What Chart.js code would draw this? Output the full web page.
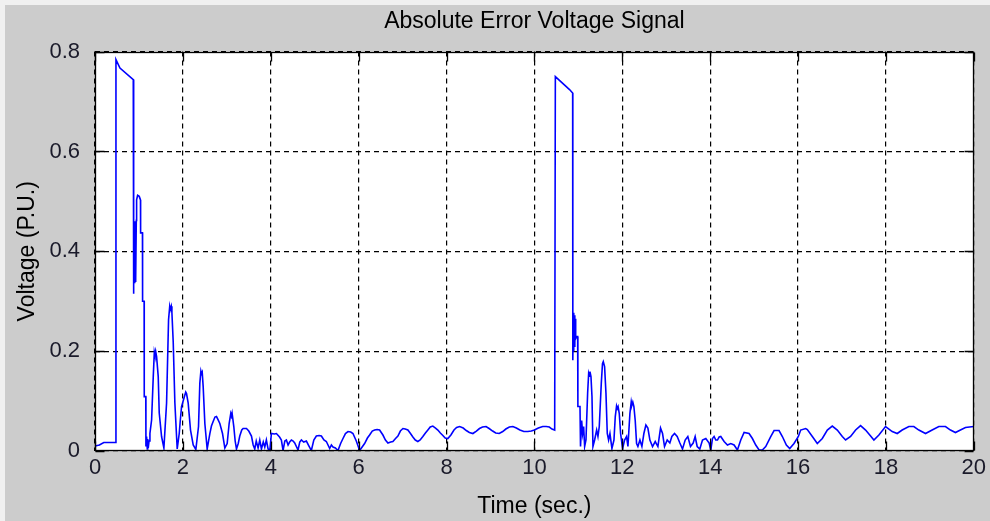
<!DOCTYPE html>
<html>
<head>
<meta charset="utf-8">
<script src="https://cdn.jsdelivr.net/npm/chart.js@4.4.1/dist/chart.umd.min.js"></script>
<style>
  html, body { margin: 0; padding: 0; background: #cccccc; }
  canvas { display: block; }
</style>
</head>
<body>
<canvas id="errchart" width="990" height="521"></canvas>
<script>
// time (sec) and absolute error (P.U.)
const times = [
  0, 0.10, 0.20, 0.47, 0.477, 0.568, 0.871, 0.873, 0.880, 0.887, 0.894, 0.901, 0.908, 0.915, 0.922, 0.930,
  0.940, 0.947, 0.970, 1.007, 1.035, 1.038, 1.080, 1.083, 1.118, 1.121, 1.156, 1.159, 1.174, 1.190, 1.200, 1.212,
  1.230, 1.250, 1.288, 1.326, 1.350, 1.364, 1.380, 1.402, 1.439, 1.462, 1.515, 1.568, 1.629, 1.674, 1.700, 1.712,
  1.735, 1.750, 1.780, 1.818, 1.850, 1.871, 1.917, 1.940, 1.970, 2.000, 2.045, 2.065, 2.083, 2.121, 2.174, 2.235,
  2.295, 2.356, 2.386, 2.410, 2.424, 2.440, 2.462, 2.500, 2.553, 2.614, 2.650, 2.689, 2.730, 2.765, 2.800, 2.841,
  2.902, 2.955, 3.008, 3.053, 3.090, 3.106, 3.120, 3.159, 3.190, 3.220, 3.260, 3.295, 3.340, 3.371, 3.447, 3.500,
  3.561, 3.600, 3.636, 3.670, 3.712, 3.750, 3.788, 3.830, 3.864, 3.900, 3.939, 3.980, 4.015, 4.080, 4.129, 4.200,
  4.242, 4.280, 4.320, 4.356, 4.394, 4.430, 4.470, 4.510, 4.545, 4.621, 4.660, 4.697, 4.750, 4.811, 4.870, 4.924,
  4.980, 5.038, 5.100, 5.152, 5.210, 5.265, 5.341, 5.380, 5.417, 5.470, 5.530, 5.590, 5.644, 5.700, 5.758, 5.820,
  5.871, 5.947, 6.023, 6.080, 6.136, 6.200, 6.250, 6.310, 6.364, 6.420, 6.477, 6.553, 6.610, 6.667, 6.730, 6.780,
  6.840, 6.894, 6.950, 7.008, 7.060, 7.121, 7.180, 7.235, 7.290, 7.348, 7.400, 7.462, 7.520, 7.576, 7.630, 7.689,
  7.750, 7.803, 7.860, 7.917, 7.970, 8.030, 8.100, 8.170, 8.230, 8.300, 8.380, 8.450, 8.520, 8.600, 8.680, 8.750,
  8.820, 8.900, 8.970, 9.050, 9.120, 9.200, 9.280, 9.350, 9.430, 9.510, 9.590, 9.670, 9.760, 9.850, 9.930, 10.000,
  10.090, 10.190, 10.270, 10.340, 10.400, 10.462, 10.477, 10.800, 10.871, 10.875, 10.885, 10.892, 10.900, 10.908, 10.916, 10.924,
  10.932, 10.940, 10.962, 10.985, 10.990, 11.038, 11.050, 11.076, 11.098, 11.121, 11.144, 11.174, 11.212, 11.235, 11.250, 11.265,
  11.288, 11.311, 11.333, 11.371, 11.417, 11.447, 11.477, 11.523, 11.550, 11.568, 11.598, 11.629, 11.659, 11.689, 11.720, 11.765,
  11.811, 11.841, 11.870, 11.886, 11.905, 11.932, 11.962, 12.008, 12.053, 12.098, 12.129, 12.174, 12.205, 12.220, 12.240, 12.265,
  12.295, 12.326, 12.356, 12.402, 12.447, 12.492, 12.538, 12.583, 12.629, 12.689, 12.750, 12.811, 12.871, 12.917, 12.962, 13.023,
  13.083, 13.129, 13.190, 13.250, 13.311, 13.371, 13.432, 13.492, 13.553, 13.614, 13.659, 13.705, 13.765, 13.826, 13.902, 13.977,
  14.015, 14.053, 14.090, 14.129, 14.167, 14.205, 14.242, 14.318, 14.394, 14.470, 14.545, 14.621, 14.697, 14.773, 14.886, 14.962,
  15.038, 15.114, 15.189, 15.265, 15.379, 15.455, 15.568, 15.644, 15.735, 15.811, 15.909, 16.008, 16.061, 16.174, 16.212, 16.326,
  16.439, 16.553, 16.667, 16.780, 16.894, 17.008, 17.083, 17.197, 17.311, 17.424, 17.538, 17.652, 17.727, 17.841, 17.992, 18.144,
  18.258, 18.371, 18.523, 18.636, 18.750, 18.902, 19.053, 19.205, 19.356, 19.470, 19.583, 19.697, 19.811, 20.000
];
const volts = [
  0.010, 0.012, 0.017, 0.017, 0.784, 0.767, 0.744, 0.315, 0.460, 0.330, 0.455, 0.336, 0.460, 0.340, 0.450, 0.345,
  0.462, 0.503, 0.512, 0.510, 0.503, 0.437, 0.437, 0.300, 0.300, 0.109, 0.109, 0.009, 0.029, 0.004, 0.024, 0.006,
  0.020, 0.035, 0.062, 0.149, 0.198, 0.192, 0.200, 0.189, 0.149, 0.076, 0.029, 0.006, 0.096, 0.263, 0.289, 0.283,
  0.290, 0.278, 0.219, 0.096, 0.040, 0.004, 0.035, 0.060, 0.089, 0.098, 0.112, 0.118, 0.115, 0.096, 0.042, 0.012,
  0.003, 0.049, 0.136, 0.160, 0.155, 0.158, 0.129, 0.055, 0.004, 0.035, 0.050, 0.059, 0.068, 0.069, 0.063, 0.055,
  0.035, 0.006, 0.015, 0.055, 0.075, 0.070, 0.076, 0.049, 0.020, 0.004, 0.015, 0.030, 0.042, 0.045, 0.045, 0.040,
  0.030, 0.012, 0.004, 0.020, 0.006, 0.022, 0.004, 0.018, 0.008, 0.022, 0.004, 0.002, 0.035, 0.034, 0.035, 0.028,
  0.022, 0.001, 0.020, 0.022, 0.012, 0.018, 0.022, 0.020, 0.016, 0.002, 0.018, 0.022, 0.018, 0.020, 0.010, 0.001,
  0.022, 0.030, 0.031, 0.030, 0.022, 0.019, 0.005, 0.012, 0.008, 0.006, 0.001, 0.015, 0.025, 0.035, 0.039, 0.038,
  0.035, 0.020, 0.001, 0.008, 0.015, 0.026, 0.032, 0.040, 0.042, 0.043, 0.042, 0.032, 0.022, 0.016, 0.018, 0.019,
  0.025, 0.030, 0.040, 0.045, 0.044, 0.042, 0.035, 0.028, 0.022, 0.019, 0.022, 0.029, 0.036, 0.042, 0.048, 0.050,
  0.046, 0.042, 0.036, 0.031, 0.026, 0.025, 0.032, 0.042, 0.047, 0.049, 0.046, 0.041, 0.037, 0.035, 0.040, 0.045,
  0.048, 0.049, 0.045, 0.040, 0.036, 0.035, 0.039, 0.044, 0.048, 0.049, 0.046, 0.042, 0.039, 0.039, 0.040, 0.042,
  0.046, 0.049, 0.049, 0.048, 0.044, 0.042, 0.750, 0.724, 0.717, 0.182, 0.270, 0.200, 0.277, 0.210, 0.272, 0.215,
  0.265, 0.225, 0.229, 0.229, 0.089, 0.089, 0.009, 0.061, 0.035, 0.049, 0.009, 0.022, 0.116, 0.155, 0.150, 0.159,
  0.149, 0.109, 0.009, 0.022, 0.042, 0.029, 0.049, 0.136, 0.175, 0.179, 0.169, 0.116, 0.035, 0.022, 0.035, 0.005,
  0.022, 0.069, 0.090, 0.085, 0.089, 0.075, 0.035, 0.005, 0.022, 0.029, 0.009, 0.075, 0.099, 0.092, 0.098, 0.089,
  0.061, 0.015, 0.009, 0.022, 0.009, 0.035, 0.052, 0.046, 0.022, 0.009, 0.019, 0.009, 0.046, 0.035, 0.009, 0.022,
  0.016, 0.029, 0.035, 0.029, 0.016, 0.004, 0.022, 0.029, 0.009, 0.016, 0.029, 0.009, 0.004, 0.022, 0.025, 0.016,
  0.002, 0.025, 0.029, 0.022, 0.022, 0.028, 0.029, 0.019, 0.012, 0.015, 0.012, 0.002, 0.022, 0.037, 0.035, 0.025,
  0.012, 0.002, 0.002, 0.009, 0.029, 0.041, 0.041, 0.029, 0.012, 0.005, 0.015, 0.029, 0.042, 0.045, 0.043, 0.029,
  0.015, 0.025, 0.042, 0.050, 0.042, 0.029, 0.022, 0.029, 0.042, 0.051, 0.042, 0.030, 0.022, 0.032, 0.049, 0.039,
  0.035, 0.042, 0.049, 0.049, 0.042, 0.035, 0.042, 0.049, 0.049, 0.042, 0.037, 0.042, 0.047, 0.049
];

const xTicks = [0, 2, 4, 6, 8, 10, 12, 14, 16, 18, 20];
const yTicks = [0, 0.2, 0.4, 0.6, 0.8];
const yLabels = ['0', '0.2', '0.4', '0.6', '0.8'];

const fontFamily = "'Liberation Sans', Arial, sans-serif";
const tickFont = { family: fontFamily, size: 22 };
const titleFont = { family: fontFamily, size: 23, weight: 'normal' };

// grey figure, light window edge, white axes box
const backdrop = {
  id: 'backdrop',
  beforeDraw(chart) {
    const { ctx, chartArea: a, width, height } = chart;
    ctx.save();
    ctx.fillStyle = '#cccccc';
    ctx.fillRect(0, 0, width, height);
    ctx.fillStyle = '#f0f0f0';
    ctx.fillRect(0, 0, width, 5);
    ctx.fillRect(0, 0, 5, height);
    ctx.fillStyle = '#ffffff';
    ctx.fillRect(a.left, a.top, a.right - a.left, a.bottom - a.top);
    ctx.restore();
  }
};

// solid box + inward tick marks like matlab
const frame = {
  id: 'frame',
  afterDraw(chart) {
    const { ctx, chartArea: a, scales } = chart;
    const L = Math.round(a.left) + 0.5, R = Math.round(a.right) - 0.5;
    const T = Math.round(a.top) + 0.5, B = Math.round(a.bottom) - 0.5;
    const len = 9;
    ctx.save();
    ctx.strokeStyle = '#000';
    ctx.lineWidth = 1.3;
    ctx.strokeRect(L, T, R - L, B - T);
    ctx.beginPath();
    xTicks.forEach(v => {
      const px = Math.round(scales.x.getPixelForValue(v)) + 0.5;
      ctx.moveTo(px, B); ctx.lineTo(px, B - len);
      ctx.moveTo(px, T); ctx.lineTo(px, T + len);
    });
    yTicks.forEach(v => {
      const py = Math.round(scales.y.getPixelForValue(v)) + 0.5;
      ctx.moveTo(L, py); ctx.lineTo(L + len, py);
      ctx.moveTo(R, py); ctx.lineTo(R - len, py);
    });
    ctx.stroke();
    ctx.restore();
  }
};

const ctx = document.getElementById('errchart').getContext('2d');

new Chart(ctx, {
  type: 'line',
  data: {
    datasets: [{
      label: 'Absolute error',
      data: times.map((t, i) => ({ x: t, y: volts[i] })),
      borderColor: '#0000ff',
      borderWidth: 1.6,
      pointRadius: 0,
      fill: false,
      tension: 0
    }]
  },
  options: {
    responsive: false,
    animation: false,
    events: [],
    layout: { padding: { left: 0, right: 15, top: 0, bottom: 0 } },
    plugins: {
      legend: { display: false },
      tooltip: { enabled: false },
      title: {
        display: true,
        text: 'Absolute Error Voltage Signal',
        fullSize: false,
        color: '#000',
        font: titleFont,
        padding: { top: 8, bottom: 16 }
      }
    },
    scales: {
      x: {
        type: 'linear',
        min: 0,
        max: 20,
        afterBuildTicks: s => { s.ticks = xTicks.map(v => ({ value: v })); },
        afterFit: s => { s.height = 70; },
        ticks: {
          padding: 4,
          color: '#1a1a2a',
          font: tickFont,
          maxRotation: 0,
          autoSkip: false,
          callback: v => String(v)
        },
        grid: { color: '#000', lineWidth: 1.2, drawTicks: false },
        border: { display: false, dash: [5, 4] },
        title: {
          display: true,
          text: 'Time (sec.)',
          color: '#000',
          font: titleFont,
          padding: { top: 0, bottom: 1 }
        }
      },
      y: {
        type: 'linear',
        min: 0,
        max: 0.8,
        afterBuildTicks: s => { s.ticks = yTicks.map(v => ({ value: v })); },
        afterFit: s => { s.width = 95; },
        ticks: {
          padding: 15,
          color: '#1a1a2a',
          font: tickFont,
          callback: (v, i) => yLabels[i]
        },
        grid: { color: '#000', lineWidth: 1.2, drawTicks: false },
        border: { display: false, dash: [5, 4] },
        title: {
          display: true,
          text: 'Voltage (P.U.)',
          color: '#000',
          font: titleFont,
          padding: { top: 14, bottom: 0 }
        }
      }
    }
  },
  plugins: [backdrop, frame]
});
</script>
</body>
</html>
